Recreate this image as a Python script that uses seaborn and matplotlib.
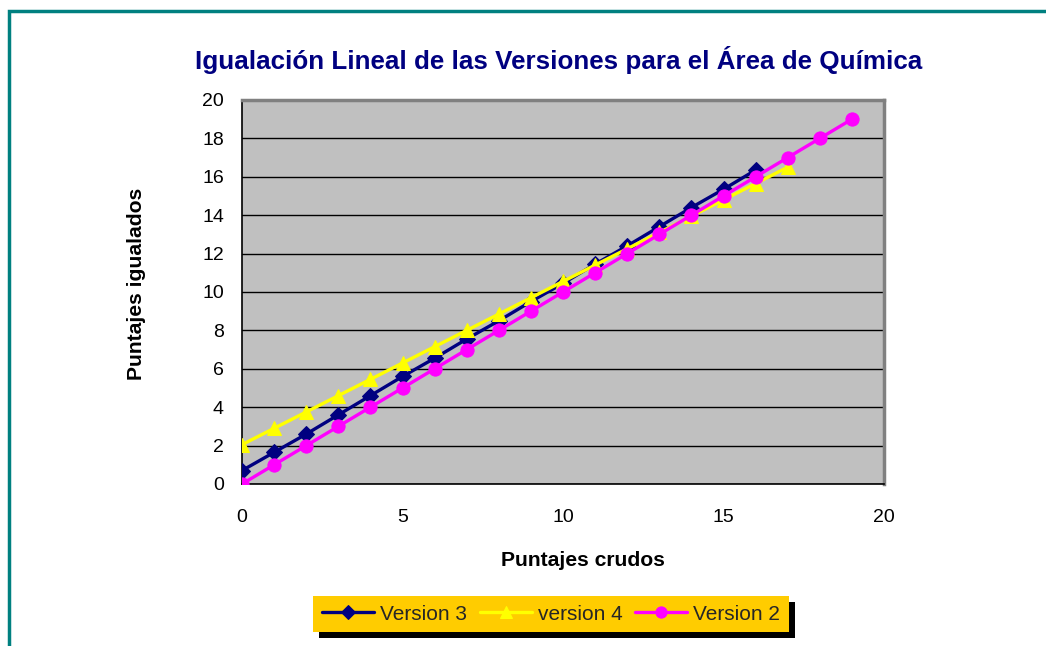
import matplotlib
matplotlib.use("Agg")
import matplotlib.pyplot as plt
import seaborn as sns
import pandas as pd
from matplotlib.patches import Rectangle

# ---- data ----
x_v3 = list(range(0, 17))
y_v3 = [0.7, 1.65, 2.6, 3.6, 4.6, 5.6, 6.55, 7.55, 8.5, 9.5, 10.45, 11.45, 12.4, 13.4, 14.4, 15.35, 16.35]
x_v4 = list(range(0, 18))
y_v4 = [2.05, 2.9, 3.75, 4.6, 5.45, 6.3, 7.15, 8.0, 8.85, 9.7, 10.55, 11.4, 12.25, 13.1, 13.95, 14.8, 15.65, 16.5]
x_v2 = list(range(0, 20))
y_v2 = [0, 1, 2, 3, 4, 5, 6, 7, 8, 9, 10, 11, 12, 13, 14, 15, 16, 17, 18, 19]

series_names = ["Version 3", "version 4", "Version 2"]
title = "Igualación Lineal de las Versiones para el Área de Química"
xlabel = "Puntajes crudos"
ylabel = "Puntajes igualados"
x_ticks = [0, 5, 10, 15, 20]
y_ticks = [0, 2, 4, 6, 8, 10, 12, 14, 16, 18, 20]

sns.set_theme(style="white")
plt.rcParams["font.family"] = ["Liberation Sans", "DejaVu Sans"]

W, H = 1046, 646
fig = plt.figure(figsize=(W / 100, H / 100), dpi=100)
fig.patch.set_facecolor("white")

# outer chart border (teal), extends past right/bottom edges
fig.patches.append(Rectangle((8.5 / W, -0.05), 1.2, 1 - 11.5 / H + 0.05,
                             transform=fig.transFigure, fill=False,
                             edgecolor="#008080", linewidth=2.5, zorder=0))

left, right, top, bottom = 242, 884, 100, 484
ax = fig.add_axes([left / W, 1 - bottom / H, (right - left) / W, (bottom - top) / H])
ax.set_facecolor("#C0C0C0")

df3 = pd.DataFrame({"x": x_v3, "y": y_v3})
df4 = pd.DataFrame({"x": x_v4, "y": y_v4})
df2 = pd.DataFrame({"x": x_v2, "y": y_v2})

sns.lineplot(data=df3, x="x", y="y", ax=ax, color="#000080", marker="D", markersize=8,
             markeredgecolor="#000080", linewidth=2.4, label=series_names[0], zorder=3)
sns.lineplot(data=df4, x="x", y="y", ax=ax, color="#FFFF00", marker="^", markersize=10,
             markeredgecolor="#FFFF00", linewidth=2.4, label=series_names[1], zorder=4)
sns.lineplot(data=df2, x="x", y="y", ax=ax, color="#FF00FF", marker="o", markersize=9.5,
             markeredgecolor="#FF00FF", linewidth=2.4, label=series_names[2], zorder=5)

ax.set_xlim(0, 20)
ax.set_ylim(0, 20)
ax.set_xticks(x_ticks)
ax.set_yticks(y_ticks)
ax.yaxis.grid(True, color="black", linewidth=1)
ax.xaxis.grid(False)
ax.set_axisbelow(True)
for s in ["top", "right"]:
    ax.spines[s].set_color("#808080")
    ax.spines[s].set_linewidth(2.5)
for s in ["left", "bottom"]:
    ax.spines[s].set_color("black")
    ax.spines[s].set_linewidth(1.2)
ax.tick_params(axis="both", labelsize=14, colors="black", length=5, width=1, direction="out")
ax.tick_params(axis="y", pad=8)
ax.tick_params(axis="x", pad=13)
for lbl in ax.get_yticklabels() + ax.get_xticklabels():
    lbl.set_color("black")

ax.set_xlabel("")
ax.set_ylabel("")
fig.text(583 / W, 1 - 561 / H, xlabel, ha="center", va="center",
         fontsize=15.2, fontweight="bold", color="black")
fig.text(136 / W, 1 - 284 / H, ylabel, ha="center", va="center", rotation=90,
         fontsize=15.2, fontweight="bold", color="black")
fig.text(559 / W, 1 - 60 / H, title, ha="center", va="center",
         fontsize=18.7, fontweight="bold", color="#000080")

handles, labels = ax.get_legend_handles_labels()
ax.legend_.remove()
leg = fig.legend(handles, labels, loc="center", bbox_to_anchor=(551 / W, 1 - 614 / H),
                 ncol=3, frameon=True, fancybox=False, facecolor="#FFCC00", edgecolor="#FFCC00",
                 framealpha=1, fontsize=15, handlelength=2.5, handletextpad=0.3,
                 columnspacing=0.6, borderpad=0.4, borderaxespad=0, markerscale=0.85)
leg.get_frame().set_linewidth(0)
leg.set_zorder(10)

fig.canvas.draw()
bb = leg.get_window_extent()
shadow = Rectangle(((bb.x0 + 6) / W, (bb.y0 - 6) / H), bb.width / W, bb.height / H,
                   transform=fig.transFigure, facecolor="black", edgecolor="none", zorder=9)
fig.patches.append(shadow)

fig.savefig("out.png", dpi=100, facecolor="white")
